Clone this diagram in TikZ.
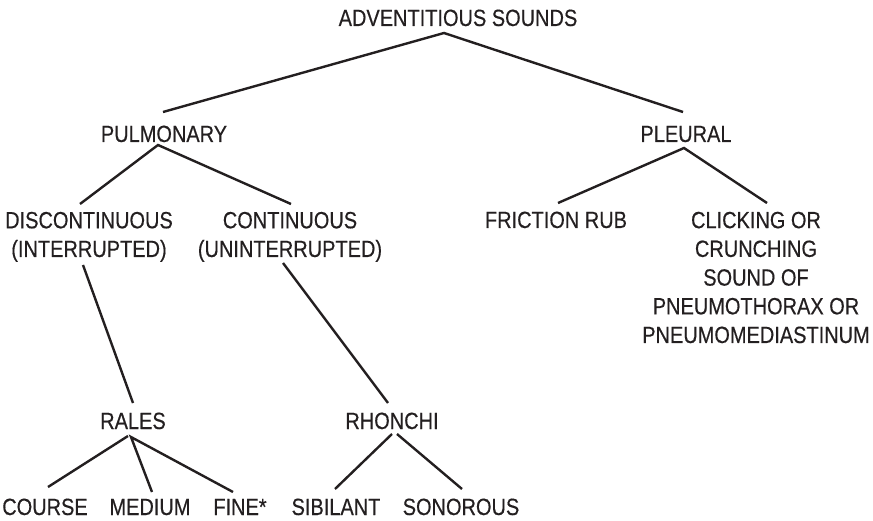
\documentclass[tikz,border=0pt]{standalone}
\usepackage{fontspec}
\setmainfont{Liberation Sans}[FakeStretch=0.85,FakeBold=0.4]
\definecolor{ink}{HTML}{231F20}
\begin{document}
\begin{tikzpicture}[x=1pt,y=-1pt,
  term/.style={font=\fontsize{23.5}{28.7}\selectfont, text=ink, inner sep=0pt, align=center, anchor=base},
  branch/.style={draw=ink, line width=2.4pt}]
\useasboundingbox (0,0) rectangle (873,521);

% terms of the classification (multi-line terms sit on their last baseline)
\node[term] (adv)    at (458,26)  {ADVENTITIOUS SOUNDS};
\node[term] (pulm)   at (164,142) {PULMONARY};
\node[term] (pleu)   at (686,142) {PLEURAL};
\node[term] (disc)   at (89,257)  {DISCONTINUOUS\\(INTERRUPTED)};
\node[term] (cont)   at (290,257) {CONTINUOUS\\(UNINTERRUPTED)};
\node[term] (fric)   at (556,228) {FRICTION RUB};
\node[term] (click)  at (756,343) {CLICKING OR\\CRUNCHING\\SOUND OF\\PNEUMOTHORAX OR\\PNEUMOMEDIASTINUM};
\node[term] (rales)  at (133,429) {RALES};
\node[term] (rhon)   at (392,429) {RHONCHI};
\node[term] (course) at (45,515)  {COURSE};
\node[term] (medium) at (150,515) {MEDIUM};
\node[term] (fine)   at (240,515) {FINE*};
\node[term] (sib)    at (336,515) {SIBILANT};
\node[term] (son)    at (461,515) {SONOROUS};

% branches
\draw[branch] ([shift={(-1,-30)}]pulm.base) -- ([shift={(-14,7)}]adv.base) -- ([shift={(-3,-30)}]pleu.base);
\draw[branch] ([shift={(-9,-53)}]disc.base) -- ([shift={(-6,3)}]pulm.base) -- ([shift={(1,-53)}]cont.base);
\draw[branch] ([shift={(2,-25)}]fric.base) -- ([shift={(-2,6)}]pleu.base) -- ([shift={(11,-140)}]click.base);
\draw[branch] ([shift={(-6,8)}]disc.base) -- ([shift={(0,-26)}]rales.base);
\draw[branch] ([shift={(-7,6)}]cont.base) -- ([shift={(-4,-26)}]rhon.base);
\draw[branch] ([shift={(3,-28)}]course.base) -- ([shift={(-5,7)}]rales.base);
\draw[branch] ([shift={(2,-23)}]medium.base) -- ([shift={(-2,8)}]rales.base) -- ([shift={(-7,-23)}]fine.base);
\draw[branch] ([shift={(-1,-26)}]sib.base) -- ([shift={(0,5)}]rhon.base);
\draw[branch] ([shift={(1,-26)}]son.base) -- ([shift={(5,5)}]rhon.base);
\end{tikzpicture}
\end{document}
